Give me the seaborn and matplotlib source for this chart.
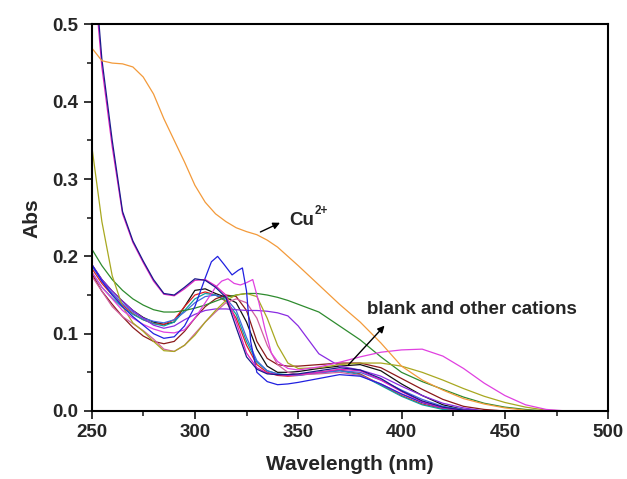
import pandas as pd
import matplotlib
matplotlib.use('Agg')
import matplotlib.pyplot as plt
import seaborn as sns

# UV-vis spectra (Abs vs wavelength, nm)
wl = [250, 255, 260, 265, 270, 275, 280, 285, 290, 295, 300, 305, 310, 315, 320, 325, 330,
      335, 340, 345, 350, 360, 370, 380, 390, 400, 410, 420, 430, 440, 450, 460, 470, 480]

cu = [0.470, 0.453, 0.450, 0.449, 0.445, 0.432, 0.410, 0.378, 0.350, 0.322, 0.292, 0.270, 0.255,
      0.245, 0.237, 0.232, 0.228, 0.221, 0.212, 0.200, 0.188, 0.163, 0.138, 0.115, 0.088, 0.058,
      0.040, 0.027, 0.016, 0.009, 0.004, 0.001, 0.0, 0.0]
navy = [0.62, 0.455, 0.35, 0.258, 0.22, 0.194, 0.17, 0.152, 0.150, 0.160, 0.171, 0.169, 0.16,
        0.147, 0.108, 0.07, 0.054, 0.048, 0.047, 0.047, 0.048, 0.052, 0.056, 0.053, 0.042, 0.026,
        0.013, 0.005, 0.001, 0.0, 0.0, 0.0, 0.0, 0.0]
magenta = [0.60, 0.445, 0.342, 0.255, 0.218, 0.192, 0.168, 0.151, 0.149, 0.158, 0.169, 0.170,
           0.162, 0.150, 0.115, 0.075, 0.056, 0.049, 0.047, 0.046, 0.047, 0.050, 0.054, 0.052,
           0.040, 0.025, 0.012, 0.004, 0.001, 0.0, 0.0, 0.0, 0.0, 0.0]
olive = [0.345, 0.245, 0.175, 0.135, 0.114, 0.103, 0.090, 0.078, 0.077, 0.085, 0.098, 0.115, 0.130,
         0.143, 0.150, 0.152, 0.148, 0.120, 0.085, 0.062, 0.055, 0.056, 0.060, 0.062, 0.062, 0.058,
         0.050, 0.040, 0.029, 0.019, 0.011, 0.005, 0.001, 0.0]
green = [0.210, 0.188, 0.170, 0.156, 0.145, 0.137, 0.131, 0.128, 0.128, 0.130, 0.133, 0.137, 0.142,
         0.147, 0.150, 0.152, 0.152, 0.150, 0.147, 0.143, 0.138, 0.128, 0.110, 0.092, 0.070, 0.050,
         0.038, 0.028, 0.018, 0.010, 0.005, 0.002, 0.0, 0.0]
black = [0.190, 0.170, 0.155, 0.142, 0.130, 0.121, 0.115, 0.112, 0.115, 0.135, 0.156, 0.158, 0.152,
         0.147, 0.140, 0.115, 0.080, 0.058, 0.050, 0.050, 0.051, 0.055, 0.058, 0.060, 0.052, 0.035,
         0.020, 0.008, 0.002, 0.0, 0.0, 0.0, 0.0, 0.0]
red = [0.185, 0.165, 0.150, 0.137, 0.126, 0.118, 0.113, 0.112, 0.118, 0.135, 0.150, 0.154, 0.150,
       0.142, 0.120, 0.085, 0.060, 0.050, 0.046, 0.045, 0.046, 0.050, 0.053, 0.048, 0.034, 0.020,
       0.009, 0.003, 0.0, 0.0, 0.0, 0.0, 0.0, 0.0]
cyan = [0.180, 0.160, 0.146, 0.134, 0.125, 0.118, 0.113, 0.110, 0.115, 0.130, 0.145, 0.152, 0.150,
        0.143, 0.125, 0.090, 0.063, 0.052, 0.048, 0.047, 0.047, 0.050, 0.052, 0.047, 0.033, 0.019,
        0.008, 0.002, 0.0, 0.0, 0.0, 0.0, 0.0, 0.0]
royal = [0.188, 0.168, 0.152, 0.139, 0.128, 0.120, 0.116, 0.114, 0.118, 0.128, 0.140, 0.148, 0.150,
         0.146, 0.130, 0.095, 0.065, 0.052, 0.048, 0.046, 0.046, 0.049, 0.052, 0.050, 0.040, 0.027,
         0.015, 0.006, 0.002, 0.0, 0.0, 0.0, 0.0, 0.0]
purple = [0.190, 0.170, 0.155, 0.142, 0.130, 0.120, 0.111, 0.107, 0.110, 0.118, 0.125, 0.130, 0.132,
          0.132, 0.131, 0.130, 0.130, 0.129, 0.127, 0.123, 0.110, 0.074, 0.058, 0.053, 0.045, 0.032,
          0.020, 0.010, 0.004, 0.0, 0.0, 0.0, 0.0, 0.0]
wine = [0.178, 0.155, 0.138, 0.122, 0.108, 0.097, 0.090, 0.087, 0.090, 0.103, 0.120, 0.135, 0.145,
        0.150, 0.148, 0.130, 0.090, 0.068, 0.060, 0.058, 0.058, 0.060, 0.062, 0.062, 0.056, 0.042,
        0.028, 0.015, 0.006, 0.002, 0.0, 0.0, 0.0, 0.0]
pink = [0.175, 0.155, 0.135, 0.122, 0.113, 0.104, 0.093, 0.080, 0.077, 0.085, 0.100, 0.115, 0.128,
        0.140, 0.145, 0.140, 0.120, 0.085, 0.060, 0.050, 0.047, 0.048, 0.050, 0.046, 0.035, 0.022,
        0.011, 0.004, 0.001, 0.0, 0.0, 0.0, 0.0, 0.0]

# the two curves with sharp double peaks need a finer wavelength step
blue_wl = [250, 255, 260, 265, 270, 275, 280, 285, 290, 295, 300, 305, 308, 311, 314, 318, 321,
           323, 325, 327, 330, 335, 340, 345, 350, 360, 370, 380, 390, 400, 410, 420, 430, 440]
blue = [0.190, 0.168, 0.150, 0.135, 0.122, 0.111, 0.100, 0.094, 0.096, 0.110, 0.135, 0.172, 0.193,
        0.200, 0.190, 0.176, 0.182, 0.185, 0.155, 0.090, 0.050, 0.038, 0.034, 0.035, 0.037, 0.042,
        0.047, 0.045, 0.035, 0.022, 0.011, 0.004, 0.001, 0.0]
violet_wl = [250, 255, 260, 265, 270, 275, 280, 285, 290, 295, 300, 305, 310, 313, 316, 319, 322,
             325, 328, 331, 334, 337, 340, 345, 350, 360, 370, 380, 390, 400, 410, 420, 430, 440,
             450, 460, 470, 480]
violet = [0.180, 0.160, 0.145, 0.130, 0.120, 0.112, 0.106, 0.102, 0.101, 0.105, 0.120, 0.140, 0.160,
          0.168, 0.171, 0.165, 0.163, 0.166, 0.170, 0.140, 0.105, 0.075, 0.064, 0.055, 0.053, 0.057,
          0.063, 0.070, 0.076, 0.079, 0.080, 0.071, 0.055, 0.036, 0.020, 0.008, 0.002, 0.0]

series = [
    ('black', wl, black, '#111111'),
    ('red', wl, red, '#E02020'),
    ('cyan', wl, cyan, '#10A0A0'),
    ('royal', wl, royal, '#4169E1'),
    ('wine', wl, wine, '#8B1A1A'),
    ('pink', wl, pink, '#D060A0'),
    ('purple', wl, purple, '#8A2BE2'),
    ('green', wl, green, '#2E8B2E'),
    ('olive', wl, olive, '#A8A820'),
    ('violet', violet_wl, violet, '#E040E0'),
    ('blue', blue_wl, blue, '#2020E0'),
    ('magenta', wl, magenta, '#E020C0'),
    ('navy', wl, navy, '#1A1A8C'),
    ('Cu2+', wl, cu, '#F39A3A'),
]

frames = []
for name, x, y, c in series:
    frames.append(pd.DataFrame({'wl': x, 'abs': y, 'ion': name}))
df = pd.concat(frames, ignore_index=True)
palette = {name: c for name, x, y, c in series}

sns.set_style('ticks')
plt.rcParams['font.family'] = ['Liberation Sans', 'DejaVu Sans']
plt.rcParams['font.weight'] = 'bold'

fig = plt.figure(figsize=(6.27, 4.79), dpi=100)
ax = fig.add_axes([0.146, 0.142, 0.824, 0.807])

sns.lineplot(data=df, x='wl', y='abs', hue='ion', hue_order=[s[0] for s in series],
             palette=palette, estimator=None, sort=False, lw=0.9, legend=False, ax=ax)

ax.set_xlim(250, 500)
ax.set_ylim(0, 0.5)
ax.set_xticks([250, 300, 350, 400, 450, 500])
ax.set_xticks([275, 325, 375, 425, 475], minor=True)
ax.set_yticks([0.0, 0.1, 0.2, 0.3, 0.4, 0.5])
ax.set_yticks([0.05, 0.15, 0.25, 0.35, 0.45], minor=True)
ax.set_yticklabels(['0.0', '0.1', '0.2', '0.3', '0.4', '0.5'])
ax.tick_params(which='major', direction='out', length=6, width=1.3, labelsize=13.5,
               top=False, right=False)
ax.tick_params(which='minor', direction='out', length=3.5, width=1.2, top=False, right=False)
for lab in ax.get_xticklabels() + ax.get_yticklabels():
    lab.set_fontweight('bold')
for sp in ax.spines.values():
    sp.set_linewidth(1.5)
    sp.set_color('black')

ax.set_xlabel('Wavelength (nm)', fontsize=15, fontweight='bold', labelpad=10)
ax.set_ylabel('Abs', fontsize=15, fontweight='bold', labelpad=8)

# annotations
ax.annotate('', xy=(342.4, 0.245), xytext=(330.5, 0.230),
            arrowprops=dict(arrowstyle='-|>', color='black', lw=1.0, mutation_scale=10))
ax.text(345.6, 0.246, 'Cu', fontsize=13.5, fontweight='bold', va='center', ha='left')
ax.text(357.8, 0.259, '2+', fontsize=8.5, fontweight='bold', va='center', ha='left')

ax.annotate('', xy=(392.7, 0.113), xytext=(373.4, 0.057),
            arrowprops=dict(arrowstyle='-|>', color='black', lw=1.0, mutation_scale=10))
ax.text(383.5, 0.131, 'blank and other cations', fontsize=13.5, fontweight='bold',
        va='center', ha='left')

fig.savefig('out.png', dpi=100)
